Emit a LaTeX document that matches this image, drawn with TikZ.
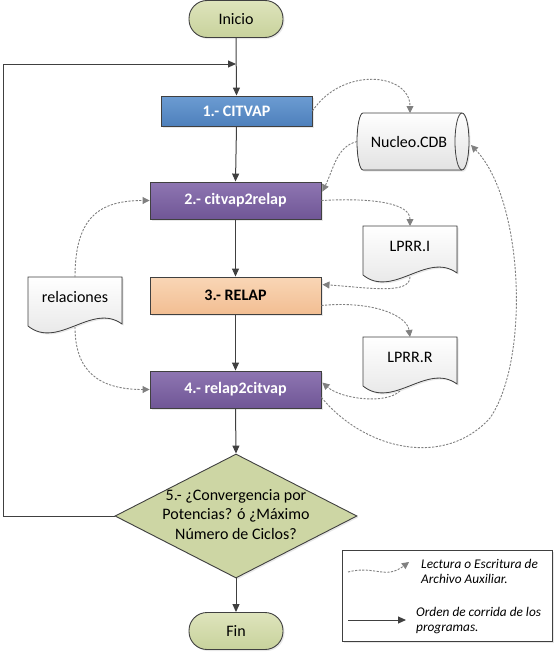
\documentclass[tikz,border=0pt]{standalone}
\usepackage{fontspec}
\setmainfont{Carlito}
\usetikzlibrary{arrows.meta,shapes.geometric,calc,shadows}
\definecolor{edge}{RGB}{64,64,64}
\definecolor{auxgray}{RGB}{128,128,128}
\definecolor{oliveT}{RGB}{222,228,188}
\definecolor{oliveB}{RGB}{200,210,156}
\definecolor{oliveD}{RGB}{205,214,164}
\definecolor{blueT}{RGB}{108,156,210}
\definecolor{blueB}{RGB}{78,128,188}
\definecolor{purpT}{RGB}{142,118,178}
\definecolor{purpB}{RGB}{112,86,150}
\definecolor{peachT}{RGB}{249,214,182}
\definecolor{peachB}{RGB}{242,190,146}
\definecolor{docB}{RGB}{226,226,226}
\begin{document}
\begin{tikzpicture}[x=1pt,y=-1pt,
  mainfont/.style={font=\fontsize{16}{19.5}\selectfont},
  shad/.style={drop shadow={opacity=0.18, shadow xshift=1.5pt, shadow yshift=-1.5pt}},
  flow/.style={draw=edge, line width=1pt, -{Triangle[length=8pt,width=7pt]}},
  aux/.style={draw=auxgray, line width=0.9pt, dash pattern=on 2.2pt off 1.4pt, -{Triangle[length=7pt,width=7pt]}},
  termbox/.style={shad, draw=edge, line width=0.9pt, rounded corners=18pt, minimum width=94pt, minimum height=37pt, inner sep=0pt, top color=oliveT, bottom color=oliveB, mainfont},
  procbox/.style={shad, draw=edge, line width=0.9pt, minimum width=171pt, minimum height=37pt, inner sep=0pt, font=\fontsize{16}{19.5}\selectfont\bfseries},
  docbox/.style={shad, draw=edge, line width=0.8pt, top color=white, bottom color=docB},
  cylbox/.style={shad, draw=edge, line width=0.8pt, top color=white, bottom color=docB},
  plaintext/.style={inner sep=0pt, mainfont},
  decision/.style={shad, shape=diamond, aspect=1.95, draw=edge, line width=0.9pt, fill=oliveD, minimum width=242pt, minimum height=124pt, inner sep=0pt, mainfont},
  legbox/.style={shad, draw=edge, line width=0.8pt, fill=white, minimum width=210pt, minimum height=91pt, inner sep=0pt},
  legtext/.style={anchor=west, align=left, inner sep=0pt, font=\fontsize{13.3}{15.5}\selectfont\itshape}
]
\useasboundingbox (0,0) rectangle (556,653);

\newcommand{\docshape}[3]{%
  \filldraw[docbox] ($(#2)+(-47,-20)$) -- ($(#2)+(47,-20)$) -- ($(#2)+(47,27)$)
    .. controls ($(#2)+(17,5)$) and ($(#2)+(-17,53)$) .. ($(#2)+(-47,29)$) -- cycle;
  \node[plaintext] (#1) at (#2) {#3};
  \coordinate (#1-top) at ($(#2)+(0,-20)$);
}

% terminals and processes
\node[termbox] (inicio) at (236,19) {Inicio};
\node[procbox, minimum width=151pt, minimum height=30pt, top color=blueT, bottom color=blueB, text=white] (c1) at (236.5,111) {1.- CITVAP};
\node[procbox, top color=purpT, bottom color=purpB, text=white] (c2) at (235.5,200.5) {2.- citvap2relap};
\node[procbox, top color=peachT, bottom color=peachB, text=black] (c3) at (235.5,295.5) {3.- RELAP};
\node[procbox, top color=purpT, bottom color=purpB, text=white] (c4) at (235.5,389.5) {4.- relap2citvap};
\node[decision] (d5) at (236,516) {\makebox[0pt]{\begin{tabular}{@{}c@{}}5.- ¿Convergencia por\\Potencias? ó ¿Máximo\\Número de Ciclos?\end{tabular}}};
\node[termbox] (fin) at (236,631) {Fin};

% files
\filldraw[cylbox] (363,113) -- (462,113) arc[start angle=-90, end angle=90, x radius=7, y radius=28.5]
  -- (363,170) arc[start angle=90, end angle=270, x radius=6, y radius=28.5] -- cycle;
\draw[draw=edge, line width=0.8pt] (462,113) arc[start angle=270, end angle=90, x radius=7, y radius=28.5];
\node[plaintext] (nuc) at (409,142) {Nucleo.CDB};
\coordinate (nuc-top) at (410,113);
\coordinate (nuc-left) at (357,141.5);
\coordinate (nuc-right) at (471,145);

\docshape{lpi}{410,246}{LPRR.I}
\coordinate (lpi-bot) at (410,277);
\docshape{lpr}{410,357}{LPRR.R}
\coordinate (lpr-bot) at (400,391);
\docshape{rel}{75,297}{relaciones}
\coordinate (rel-bot) at (75,327);

% program order
\draw[flow] (inicio.south) -- (c1.north);
\draw[flow] (c1.south) -- (c2.north);
\draw[flow] (c2.south) -- (c3.north);
\draw[flow] (c3.south) -- (c4.north);
\draw[flow] (c4.south) -- (d5.north);
\draw[flow] (d5.south) -- (fin.north);
\coordinate (loopL) at (3,516);
\coordinate (join) at (236,64);
\draw[flow] (d5.west) -- (loopL) |- (join);

% auxiliary files
\draw[aux] (c1.east) .. controls +(30,-45) and +(0,-40) .. (nuc-top);
\draw[aux] (nuc-left) .. controls +(-20,5) and +(12,-25) .. ($(c2.north east)+(1,10)$);
\draw[aux] (c2.east) .. controls +(55,-3) and +(0,-22) .. (lpi-top);
\draw[aux] (lpi-bot) .. controls +(0,18) and +(45,3) .. ($(c3.north east)+(1,8)$);
\draw[aux] ($(c3.east)+(0,10)$) .. controls +(50,-5) and +(-3,-22) .. (lpr-top);
\draw[aux] (lpr-bot) .. controls +(-15,14) and +(18,16) .. ($(c4.north east)+(1,12)$);
\coordinate (loopmid) at (490,418);
\draw[aux] ($(c4.east)+(0,8)$) .. controls +(44,53) and +(-45,50) .. (loopmid)
  .. controls +(40,-58) and +(53,55) .. (nuc-right);
\draw[aux] (rel-top) .. controls +(0,-60) and +(-50,0) .. (c2.west);
\draw[aux] (rel-bot) .. controls +(0,45) and +(-50,0) .. (c4.west);

% legend
\node[legbox] (leg) at (447,595.5) {};
\coordinate (la1) at (348,572);
\coordinate (la2) at (409,562);
\draw[aux] (la1) .. controls +(27,-7) and +(-24,18) .. (la2);
\node[legtext] (lt1) at (421,571.5) {Lectura o Escritura de\\Archivo Auxiliar.};
\coordinate (lb1) at (348,620);
\coordinate (lb2) at (406,620);
\draw[flow] (lb1) -- (lb2);
\node[legtext] (lt2) at (416,620.5) {Orden de corrida de los\\programas.};
\end{tikzpicture}
\end{document}
